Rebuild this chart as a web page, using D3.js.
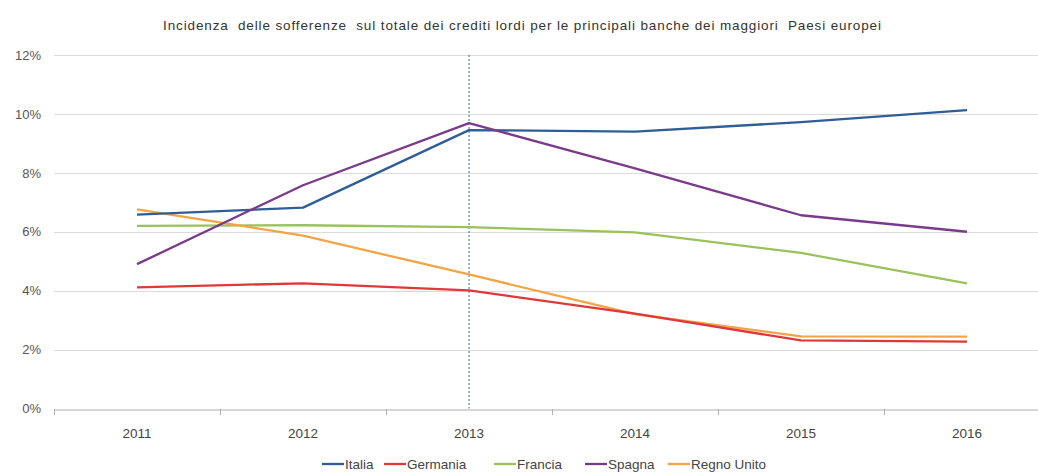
<!DOCTYPE html>
<html>
<head>
<meta charset="utf-8">
<script src="https://cdn.jsdelivr.net/npm/d3@7"></script>
<style>
  html, body { margin: 0; padding: 0; background: #fff; }
  svg { display: block; font-family: "Liberation Sans", Arial, sans-serif; }
</style>
</head>
<body>
<svg id="chart" width="1038" height="475"></svg>
<script>
const years = ["2011", "2012", "2013", "2014", "2015", "2016"];
const yTicks = [0, 2, 4, 6, 8, 10, 12];
const seriesNames = ["Italia", "Germania", "Francia", "Spagna", "Regno Unito"];
const seriesColors = ["#2f5d98", "#e0383a", "#9ac25a", "#7a3b8a", "#f5a445"];
const italia = [6.58, 6.82, 9.45, 9.4, 9.72, 10.13];
const germania = [4.11, 4.25, 4.01, 3.22, 2.31, 2.27];
const francia = [6.2, 6.22, 6.16, 5.98, 5.28, 4.25];
const spagna = [4.9, 7.58, 9.69, 8.15, 6.56, 6.0];
const regnoUnito = [6.76, 5.87, 4.55, 3.2, 2.45, 2.44];
const markerYear = "2013";
const title = "Incidenza  delle sofferenze  sul totale dei crediti lordi per le principali banche dei maggiori  Paesi europei";

const seriesData = [italia, germania, francia, spagna, regnoUnito];

const svg = d3.select("#chart");
const margin = { left: 54, right: 1050, top: 55, bottom: 408.5 };

const x = d3.scaleBand().domain(years).range([margin.left, margin.right]).padding(0);
const y = d3.scaleLinear().domain([0, 12]).range([margin.bottom, margin.top]);

// title
svg.append("text")
  .attr("x", 163).attr("y", 30)
  .attr("font-size", 13.5)
  .attr("fill", "#333")
  .attr("textLength", 718)
  .attr("lengthAdjust", "spacing")
  .style("white-space", "pre")
  .text(title);

// gridlines
svg.append("g").selectAll("line")
  .data(yTicks.filter(d => d > 0))
  .join("line")
  .attr("x1", margin.left).attr("x2", margin.right)
  .attr("y1", d => Math.round(y(d)) + 0.5).attr("y2", d => Math.round(y(d)) + 0.5)
  .attr("stroke", "#dadada").attr("stroke-width", 1.2);

// y axis labels
const yAxis = d3.axisLeft(y).tickValues(yTicks).tickFormat(d => d + "%").tickSize(0).tickPadding(0);
const gy = svg.append("g").attr("transform", "translate(41,0)").call(yAxis);
gy.select(".domain").remove();
gy.selectAll("text").attr("font-size", 13).attr("fill", "#555").attr("font-family", "Liberation Sans, Arial, sans-serif");

// x axis
const xAxis = d3.axisBottom(x).tickSize(0).tickPadding(19);
const gx = svg.append("g").attr("transform", `translate(0,${Math.round(y(0)) + 0.5})`).call(xAxis);
gx.select(".domain").attr("stroke", "#b0b0b0").attr("stroke-width", 1.2);
gx.selectAll("text").attr("font-size", 13.5).attr("fill", "#444").attr("font-family", "Liberation Sans, Arial, sans-serif");
// boundary ticks
const boundaries = years.map(d => x(d)).concat([x(years[years.length - 1]) + x.bandwidth()]);
svg.append("g").selectAll("line").data(boundaries).join("line")
  .attr("x1", d => Math.round(d) + 0.5).attr("x2", d => Math.round(d) + 0.5)
  .attr("y1", Math.round(y(0))).attr("y2", Math.round(y(0)) + 6)
  .attr("stroke", "#b0b0b0").attr("stroke-width", 1);

// marker dashed line
svg.append("line")
  .attr("x1", x(markerYear) + x.bandwidth() / 2).attr("x2", x(markerYear) + x.bandwidth() / 2)
  .attr("y1", y(12)).attr("y2", y(0))
  .attr("stroke", "#3a6aa8").attr("stroke-width", 1)
  .attr("stroke-dasharray", "2,2");

// lines
const line = d3.line()
  .x((d, i) => x(years[i]) + x.bandwidth() / 2)
  .y(d => y(d));

const drawOrder = [2, 4, 1, 0, 3];
drawOrder.forEach(k => {
  svg.append("path")
    .datum(seriesData[k])
    .attr("d", line)
    .attr("fill", "none")
    .attr("stroke", seriesColors[k])
    .attr("stroke-width", 2.3)
    .attr("stroke-linejoin", "round");
});

// legend
const legendX = [322, 384, 494, 585, 668];
const lg = svg.append("g");
seriesNames.forEach((name, i) => {
  const g = lg.append("g").attr("transform", `translate(${legendX[i]},464)`);
  g.append("line").attr("x1", 0).attr("x2", 22).attr("y1", 0).attr("y2", 0)
    .attr("stroke", seriesColors[i]).attr("stroke-width", 2.3);
  g.append("text").attr("x", 23).attr("y", 5)
    .attr("font-size", 13.5).attr("fill", "#444").text(name);
});
</script>
</body>
</html>
